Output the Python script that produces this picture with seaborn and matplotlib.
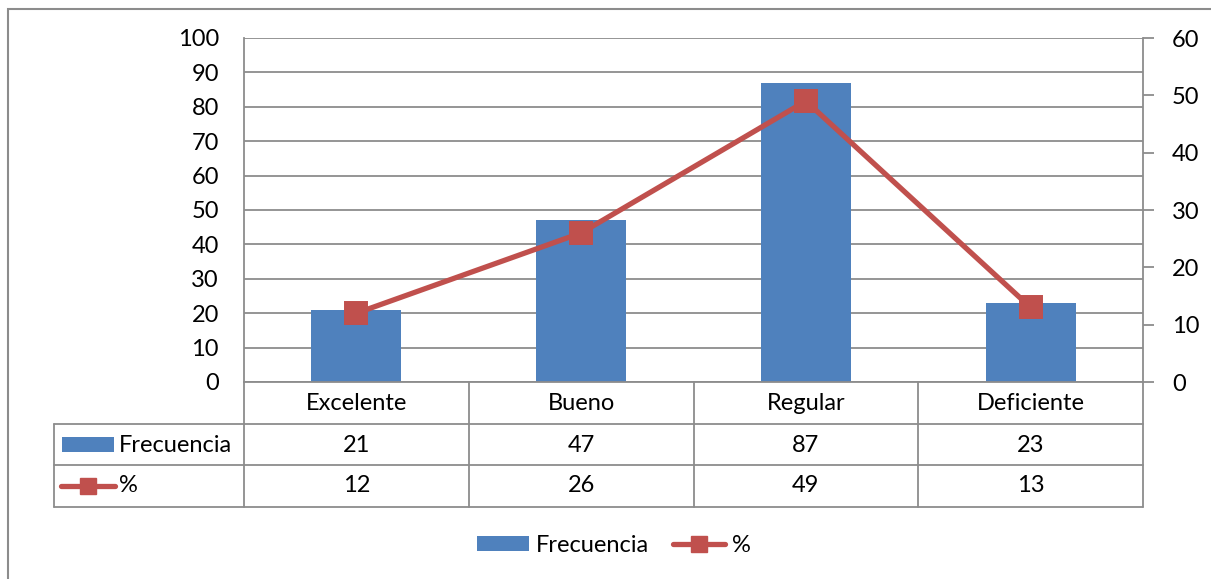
import matplotlib
matplotlib.use("Agg")
import matplotlib.pyplot as plt
import matplotlib.transforms as mtransforms
from matplotlib.lines import Line2D
from matplotlib.patches import Rectangle
import pandas as pd
import seaborn as sns

categorias = ["Excelente", "Bueno", "Regular", "Deficiente"]
frecuencia = [21, 47, 87, 23]
porcentaje = [12, 26, 49, 13]
ticks_izq = [0, 10, 20, 30, 40, 50, 60, 70, 80, 90, 100]
ticks_der = [0, 10, 20, 30, 40, 50, 60]

AZUL = "#4F81BD"
ROJO = "#C0504D"
GRIS = "#8C8C8C"
FS = 17
LW = 3.8

sns.set_theme(style="white")
plt.rcParams["font.family"] = ["Lato", "DejaVu Sans"]
plt.rcParams["text.color"] = "black"

df = pd.DataFrame({"Categoria": categorias,
                   "Frecuencia": frecuencia,
                   "Porcentaje": porcentaje})

W, H = 1211, 579
fig = plt.figure(figsize=(W / 100, H / 100), dpi=100)
fig.patch.set_facecolor("white")

# plot area in pixel coordinates
x0, x1, y0, y1 = 244, 1143, 38, 382
ax = fig.add_axes([x0 / W, 1 - y1 / H, (x1 - x0) / W, (y1 - y0) / H])

sns.barplot(data=df, x="Categoria", y="Frecuencia", color=AZUL, saturation=1,
            width=0.4, ax=ax, edgecolor="none", errorbar=None)
ax.set_ylim(0, 100)
ax.set_yticks(ticks_izq)
ax.set_axisbelow(True)
ax.yaxis.grid(True, color=GRIS, linewidth=1.3)
ax.xaxis.grid(False)
ax.set_xlabel("")
ax.set_ylabel("")
ax.set_xticks([])
ax.tick_params(axis="y", length=0, pad=18, labelsize=FS, labelcolor="black")
for side in ["top", "right", "bottom"]:
    ax.spines[side].set_visible(False)
ax.spines["left"].set_color(GRIS)
ax.spines["left"].set_linewidth(1.3)

ax2 = ax.twinx()
sns.pointplot(data=df, x="Categoria", y="Porcentaje", ax=ax2, color=ROJO,
              markers="s", markersize=14.5, linewidth=LW, errorbar=None)
ax2.set_ylim(0, 60)
ax2.set_yticks(ticks_der)
ax2.set_xlim(-0.5, len(categorias) - 0.5)
ax.set_xlim(-0.5, len(categorias) - 0.5)
ax2.set_xlabel("")
ax2.set_ylabel("")
ax2.set_xticks([])
ax2.tick_params(axis="y", length=8, width=1.3, color=GRIS, pad=13,
                labelsize=FS, labelcolor="black", direction="out")
for side in ["top", "left", "bottom"]:
    ax2.spines[side].set_visible(False)
ax2.spines["right"].set_color(GRIS)
ax2.spines["right"].set_linewidth(1.3)

# data table below the plot area
tr = mtransforms.blended_transform_factory(ax.transData, ax.transAxes)
h = y1 - y0
def ay(py):
    return -(py - y1) / h

filas = [382, 424, 465, 507]
xh = -0.5 + (54 - x0) * len(categorias) / (x1 - x0)
lk = dict(color=GRIS, linewidth=1.3, transform=tr, clip_on=False, zorder=5)

ax.add_line(Line2D([-0.5, 3.5], [0, 0], **lk))
for py in filas[1:]:
    ax.add_line(Line2D([xh, 3.5], [ay(py), ay(py)], **lk))
for i in range(len(categorias) + 1):
    ax.add_line(Line2D([i - 0.5, i - 0.5], [0, ay(filas[-1])], **lk))
ax.add_line(Line2D([xh, xh], [ay(filas[1]), ay(filas[-1])], **lk))

tk = dict(transform=tr, ha="center", va="center", fontsize=FS, clip_on=False)
for i, cat in enumerate(categorias):
    ax.text(i, ay(403), cat, **tk)
    ax.text(i, ay(445), str(frecuencia[i]), **tk)
    ax.text(i, ay(486), str(porcentaje[i]), **tk)

# row headers with series keys
fig.add_artist(Rectangle((62 / W, 1 - 452 / H), 52 / W, 15 / H,
                         facecolor=AZUL, edgecolor="none",
                         transform=fig.transFigure))
fig.text(119 / W, 1 - 445 / H, "Frecuencia", ha="left", va="center", fontsize=FS)
fig.add_artist(Line2D([61 / W, 115 / W], [1 - 486 / H, 1 - 486 / H],
                      color=ROJO, linewidth=LW, solid_capstyle="round",
                      transform=fig.transFigure))
fig.add_artist(Line2D([88 / W], [1 - 486 / H], color=ROJO, marker="s",
                      markersize=12, linestyle="none",
                      transform=fig.transFigure))
fig.text(119 / W, 1 - 486 / H, "%", ha="left", va="center", fontsize=FS)

# legend
handles = [Rectangle((0, 0), 1, 1, facecolor=AZUL, edgecolor="none"),
           Line2D([], [], color=ROJO, linewidth=LW, marker="s", markersize=12,
                  solid_capstyle="round")]
fig.legend(handles, ["Frecuencia", "%"], loc="center",
           bbox_to_anchor=(614 / W, 1 - 545 / H), ncol=2, frameon=False,
           fontsize=FS, handlelength=2.2, handleheight=0.6,
           handletextpad=0.3, columnspacing=1.0)

# outer chart frame
fig.add_artist(Rectangle((8 / W, -0.05), 1.2, 1 - 9 / H + 0.05,
                         facecolor="none", edgecolor=GRIS, linewidth=1.5,
                         transform=fig.transFigure))

fig.savefig("out.png", dpi=100, facecolor="white")
